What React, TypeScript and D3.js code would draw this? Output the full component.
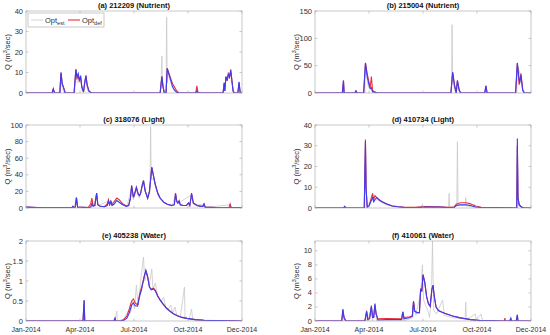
import React from 'react';
import * as d3 from 'd3';

type Pt = [number, number];

// x axis: day of 2014, ticks evenly spaced as in the original
const xTickDays = [0, 91, 182, 273, 364];
const xTickLabels = ['Jan-2014', 'Apr-2014', 'Jul-2014', 'Oct-2014', 'Dec-2014'];

// (a) 212209 (Nutrient)
const grayA: Pt[] = [[0,0],[44,0],[46,1.5],[48,0],[58,0],[59,9],[61,3],[64,0],[82,0],[84,10],[87,5],[92,7],[95,1],[100,7],[104,1],[110,0],[227,0],[229,18],[230,3],[236,0],[237,37],[238,5],[240,10],[245,4],[250,1],[256,0],[333,0],[337,7],[345,10],[350,0],[358,0],[359,5],[361,0],[364,0]];
const redA: Pt[] = [[0,0],[44,0],[46,2],[48,0],[57,0],[59,10],[61,4.5],[63,3],[66,0],[81,0],[84,11.5],[86,7],[88,8],[90,6],[92,8],[94,3],[97,0.5],[99,5],[101,8.5],[103,4],[106,1],[110,0],[226,0],[229,8],[231,3],[233,0],[236,0],[238,12],[241,9.5],[244,7],[247,4.5],[250,3],[254,1],[258,0],[286,0],[288,3.5],[290,0],[332,0],[334,5],[335,1],[337,8],[339,6],[341,10],[343,7],[345,11.5],[347,6],[349,1],[351,0],[357,0],[359,5],[361,0],[364,0]];
const blueA: Pt[] = [[0,0],[44,0],[46,2],[48,0],[57,0],[59,10],[61,4.5],[63,3],[66,0],[81,0],[84,11.5],[86,8],[88,9.5],[90,6],[92,8.5],[94,3],[97,0.5],[99,5],[101,8.5],[103,4],[106,1],[110,0],[226,0],[229,8],[231,3],[233,0],[236,0],[238,12],[241,9],[244,6],[247,3],[250,1.5],[254,0.3],[258,0],[286,0],[288,1],[290,0],[332,0],[334,5],[335,1],[337,8],[339,6],[341,9],[343,8],[345,11],[347,6],[349,1],[351,0],[357,0],[359,5.5],[361,0],[364,0]];

// (b) 215004 (Nutrient)
const grayB: Pt[] = [[0,0],[47,0],[48,18],[49,0],[84,0],[85,50],[90,10],[96,5],[100,0],[230,0],[231,125],[232,20],[236,3],[240,20],[244,0],[287,0],[288,12],[290,0],[340,0],[341,50],[347,30],[352,0],[364,0]];
const redB: Pt[] = [[0,0],[46,0],[48,23],[49,0],[67,0],[69,4],[71,0],[82,0],[85,55],[88,35],[91,20],[93,10],[95,30],[97,5],[100,2],[104,0.5],[110,0],[229,0],[232,38],[235,15],[238,0],[240,23],[243,5],[246,0],[286,0],[288,13],[290,0],[338,0],[341,55],[344,15],[347,36],[350,5],[353,0],[364,0]];
const blueB: Pt[] = [[0,0],[46,0],[48,23],[49,0],[67,0],[69,4],[71,0],[82,0],[85,55],[88,30],[91,15],[93,8],[95,10],[97,2],[100,2],[104,0.5],[110,0],[229,0],[232,38],[235,15],[238,0],[240,23],[243,5],[246,0],[286,0],[288,13],[290,0],[338,0],[341,55],[344,25],[345,18],[347,33],[350,5],[353,0],[364,0]];

// (c) 318076 (Light)
const grayC: Pt[] = [[0,1],[30,0.3],[78,0.3],[79,2],[81,0.3],[85,11],[87,0.5],[110,1],[111,10],[113,2],[119,16],[121,3],[139,8],[141,3],[153,10],[160,5],[170,2],[178,24],[181,10],[186,22],[191,12],[198,30],[205,10],[209,20],[210,98],[211,35],[215,35],[222,15],[232,6],[246,2],[252,15],[255,5],[279,16],[282,4],[300,4],[302,0.5],[344,4],[346,0.2],[364,0.2]];
const redC: Pt[] = [[0,1],[10,0.8],[30,0.3],[77,0.3],[79,2],[81,0.5],[83,1],[85,12.5],[87,1],[105,0.5],[109,5],[111,12],[113,3],[116,3],[119,18],[121,4],[125,2],[132,1.5],[137,5],[139,10],[141,4],[143,8],[145,4],[149,8],[153,12],[157,10],[163,5],[169,2.5],[173,3],[176,12],[178,27],[181,13],[183,17],[186,25],[189,17],[191,15],[193,17],[196,28],[198,33],[201,20],[205,12],[208,20],[212,49],[215,38],[218,28],[222,18],[226,12],[232,7],[238,4.5],[246,3],[250,4],[252,18],[254,8],[256,6],[258,9],[260,4],[265,3],[270,3],[274,6],[276,3],[278,12],[279,17],[282,6],[288,3],[295,2],[298,2],[300,5],[302,1],[320,0.5],[342,0.3],[344,5],[346,0.3],[364,0.2]];
const blueC: Pt[] = [[0,1],[10,0.8],[30,0.3],[77,0.3],[79,2],[81,0.5],[83,1],[85,12.5],[87,1],[105,0.5],[109,1],[111,5],[113,2],[116,3],[119,18],[121,4],[125,2],[132,1.5],[137,3],[139,8],[141,4],[143,8],[145,3],[149,5],[153,9],[157,7],[163,4],[169,2],[173,3],[176,12],[178,27],[181,13],[183,17],[186,25],[189,17],[191,15],[193,17],[196,28],[198,33],[201,20],[205,12],[208,20],[212,49],[215,38],[218,28],[222,18],[226,12],[232,7],[238,4.5],[246,3],[250,4],[252,17],[254,8],[256,6],[258,8],[260,4],[265,3],[270,3],[274,6],[276,3],[278,12],[279,18],[282,6],[288,3],[295,2],[298,2],[300,5],[302,1],[320,0.5],[342,0.3],[344,1],[346,0.3],[364,0.2]];

// (d) 410734 (Light)
const grayD: Pt[] = [[0,0],[49,0],[50,0.6],[51,0],[84,0],[85,30],[87,1],[97,4],[104,4],[120,1.5],[150,0.3],[180,0.3],[181,2],[182,0.3],[225,0.2],[226,7],[227,0.5],[239,1],[240,32],[241,1.5],[253,1.5],[254,5],[255,1],[268,0.5],[269,2],[270,0.3],[300,0],[340,0],[341,30],[343,1],[350,0],[364,0]];
const redD: Pt[] = [[0,0],[48,0],[50,0.8],[52,0],[83,0],[85,33],[86,10],[88,0.5],[91,1],[94,4],[97,7],[99,4],[101,6],[104,5],[108,4],[113,3],[120,2],[130,1],[140,0.6],[150,0.3],[170,0.3],[185,0.7],[210,0.6],[225,0.3],[234,0.3],[238,1.8],[245,2.5],[255,2.5],[262,2],[270,1],[280,0.3],[338,0],[340,0],[341,30],[342,5],[344,2],[346,1],[348,0.5],[352,0],[364,0]];
const blueD: Pt[] = [[0,0],[48,0],[50,0.8],[52,0],[83,0],[85,32],[86,10],[88,0.5],[91,1],[94,3],[97,5],[99,3],[101,4],[104,5],[108,4],[113,3],[120,2],[130,1],[140,0.6],[150,0.3],[170,0.2],[185,0.4],[210,0.4],[225,0.2],[234,0.2],[238,1.2],[245,1.5],[255,1.5],[262,1.2],[270,0.5],[280,0.2],[338,0],[340,0],[341,33.5],[342,5],[344,1.5],[346,1],[348,0.5],[352,0],[364,0]];

// (e) 405238 (Water)
const grayE: Pt[] = [[0,0],[97,0],[98,0.4],[99,0],[150,0],[153,0.25],[154,0],[165,0.05],[172,0.25],[176,0.2],[180,0.5],[183,0.3],[186,0.9],[189,0.4],[194,1.1],[198,1.6],[200,1.0],[204,1.2],[207,0.9],[210,1.1],[212,1.3],[214,0.8],[218,0.95],[222,0.6],[228,0.5],[232,0.6],[236,0.3],[240,0.3],[244,0.4],[247,0.2],[251,0.35],[254,0.15],[260,0.1],[267,0.85],[268,0.1],[275,0.05],[279,0.3],[281,0.03],[300,0.02],[364,0]];
const redE: Pt[] = [[0,0],[96,0],[98,0.52],[99,0],[148,0],[150,0.07],[151,0],[160,0],[165,0.04],[170,0.12],[174,0.3],[178,0.5],[181,0.55],[184,0.45],[188,0.4],[192,0.7],[195,0.85],[199,1.1],[202,1.25],[205,1.12],[208,0.85],[211,0.8],[215,0.82],[218,0.77],[222,0.63],[226,0.53],[231,0.43],[236,0.34],[242,0.26],[248,0.19],[255,0.13],[263,0.09],[271,0.065],[285,0.035],[300,0.02],[320,0.01],[340,0.005],[364,0]];
const blueE: Pt[] = [[0,0],[96,0],[98,0.52],[99,0],[148,0],[150,0.07],[151,0],[160,0],[165,0.02],[170,0.07],[174,0.2],[178,0.4],[181,0.45],[184,0.38],[188,0.37],[192,0.65],[195,0.8],[199,1.1],[202,1.27],[205,1.1],[208,0.85],[211,0.78],[215,0.8],[218,0.75],[222,0.62],[226,0.52],[231,0.42],[236,0.33],[242,0.25],[248,0.18],[255,0.13],[263,0.09],[271,0.065],[285,0.035],[300,0.02],[320,0.01],[340,0.005],[364,0]];

// (f) 410061 (Water)
const grayF: Pt[] = [[0,0],[46,0],[47,1.5],[49,0],[86,0],[87,1.2],[89,0],[95,2],[97,0],[101,2.2],[104,0],[147,0],[148,1.2],[150,0],[165,0.5],[166,2.5],[170,0.8],[178,4],[181,8],[183,3],[190,1.5],[193,0.5],[196,3],[198,11.4],[200,1.5],[205,1],[215,3],[218,0.8],[230,0.5],[253,0.3],[254,2.7],[255,0.3],[262,0.5],[270,1],[272,0.2],[280,1],[282,0.1],[300,0],[364,0]];
const redF: Pt[] = [[0,0],[45,0],[47,1.5],[49,0.5],[52,0],[84,0],[87,1.5],[89,0.3],[92,0.4],[95,2],[97,0.6],[99,0.6],[101,2.3],[103,1],[106,0.3],[120,0.35],[146,0.4],[148,1.3],[150,0.5],[160,0.6],[164,0.7],[166,2.8],[168,1.4],[172,1.2],[176,1.2],[178,4.6],[180,4.2],[182,6.6],[185,5.5],[188,3.5],[191,2.5],[194,2.1],[197,4.5],[199,5.1],[201,3.5],[204,2],[208,1.5],[215,1.2],[222,1],[232,0.7],[245,0.45],[252,0.35],[262,0.2],[279,0.08],[300,0.02],[318,0],[319,0],[320,0.4],[321,0],[328,0],[330,0.3],[331,0],[339,0],[341,0.8],[342,0],[364,0]];
const blueF: Pt[] = [[0,0],[45,0],[47,1.7],[49,0.5],[52,0],[84,0],[87,1.3],[89,0.2],[92,0.3],[95,2.2],[97,0.5],[99,0.5],[101,2.5],[103,1],[106,0.15],[120,0.2],[146,0.2],[148,1.3],[150,0.3],[160,0.5],[164,0.7],[166,2.8],[168,1.4],[172,1.2],[176,1.2],[178,4.6],[180,4.2],[182,6.6],[185,5.5],[188,3.5],[191,2.5],[194,2.1],[197,4.5],[199,5.1],[201,3.5],[204,2],[208,1.5],[215,1.2],[222,1],[232,0.7],[245,0.45],[262,0.2],[279,0.08],[300,0.02],[318,0],[328,0],[330,0.4],[331,0],[339,0],[341,0.9],[342,0],[364,0]];

const font = '"Liberation Sans", Arial, sans-serif';
const GRAY = '#c9c9c9';
const RED = '#e8303a';
const BLUE = '#3c3cf0';
const BOX = '#a6a6a6';
const TXT = '#303030';

interface PanelDef {
  title: string;
  col: number;
  row: number;
  yMax: number;
  yTicks: number[];
  gray: Pt[];
  red: Pt[];
  blue: Pt[];
  showX?: boolean;
  legend?: boolean;
}

const colX = [[26, 242], [315, 531]];
const rowY = [[11, 93], [125, 208], [241, 321]];

const panels: PanelDef[] = [
  { title: '(a) 212209 (Nutrient)', col: 0, row: 0, yMax: 40, yTicks: [0, 10, 20, 30, 40], gray: grayA, red: redA, blue: blueA, legend: true },
  { title: '(b) 215004 (Nutrient)', col: 1, row: 0, yMax: 150, yTicks: [0, 50, 100, 150], gray: grayB, red: redB, blue: blueB },
  { title: '(c) 318076 (Light)', col: 0, row: 1, yMax: 100, yTicks: [0, 20, 40, 60, 80, 100], gray: grayC, red: redC, blue: blueC },
  { title: '(d) 410734 (Light)', col: 1, row: 1, yMax: 40, yTicks: [0, 10, 20, 30, 40], gray: grayD, red: redD, blue: blueD },
  { title: '(e) 405238 (Water)', col: 0, row: 2, yMax: 2, yTicks: [0, 0.5, 1, 1.5, 2], gray: grayE, red: redE, blue: blueE, showX: true },
  { title: '(f) 410061 (Water)', col: 1, row: 2, yMax: 11.4, yTicks: [0, 2, 4, 6, 8, 10], gray: grayF, red: redF, blue: blueF, showX: true },
];

const Panel = ({ p, i }: { p: PanelDef; i: number }) => {
  const [x0, x1] = colX[p.col];
  const [y0, y1] = rowY[p.row];
  const x = d3.scaleLinear().domain([0, 364]).range([x0, x1]);
  const y = d3.scaleLinear().domain([0, p.yMax]).range([y1, y0]);
  const line = d3.line<Pt>().x(d => x(d[0])).y(d => y(d[1]));
  const clip = `clip${i}`;
  const tl = 2.5;
  return (
    <g>
      <defs>
        <clipPath id={clip}>
          <rect x={x0} y={y0} width={x1 - x0} height={y1 - y0} />
        </clipPath>
      </defs>
      <text x={(x0 + x1) / 2} y={y0 - 3} textAnchor="middle" fontSize={7.5} fontWeight="bold" fill="#111">{p.title}</text>
      <g clipPath={`url(#${clip})`}>
        <path d={line(p.gray) || ''} fill="none" stroke={GRAY} strokeWidth={0.8} />
        <path d={line(p.red) || ''} fill="none" stroke={RED} strokeWidth={1.1} />
        <path d={line(p.blue) || ''} fill="none" stroke={BLUE} strokeWidth={1.1} />
      </g>
      <rect x={x0} y={y0} width={x1 - x0} height={y1 - y0} fill="none" stroke={BOX} strokeWidth={0.6} />
      {p.yTicks.map(t => (
        <g key={t}>
          <line x1={x0} x2={x0 + tl} y1={y(t)} y2={y(t)} stroke={BOX} strokeWidth={0.6} />
          <line x1={x1} x2={x1 - tl} y1={y(t)} y2={y(t)} stroke={BOX} strokeWidth={0.6} />
          <text x={x0 - 3} y={y(t) + 2.5} textAnchor="end" fontSize={7.5} fill={TXT}>{String(t)}</text>
        </g>
      ))}
      {xTickDays.map((t, k) => (
        <g key={t}>
          <line x1={x(t)} x2={x(t)} y1={y1} y2={y1 - tl} stroke={BOX} strokeWidth={0.6} />
          <line x1={x(t)} x2={x(t)} y1={y0} y2={y0 + tl} stroke={BOX} strokeWidth={0.6} />
          {p.showX && (
            <text x={x(t)} y={y1 + 11} textAnchor="middle" fontSize={7} fill={TXT}>{xTickLabels[k]}</text>
          )}
        </g>
      ))}
      <text transform={`translate(${x0 - 16},${(y0 + y1) / 2}) rotate(-90)`} textAnchor="middle" fontSize={7.5} fill={TXT}>
        Q (m<tspan dy={-3} fontSize={5.5}>3</tspan><tspan dy={3}>/sec)</tspan>
      </text>
      {p.legend && (
        <g>
          <rect x={x0 + 2} y={y0 + 2} width={76} height={14} fill="#fff" stroke={BOX} strokeWidth={0.6} />
          <line x1={x0 + 5} x2={x0 + 17} y1={y0 + 9} y2={y0 + 9} stroke={GRAY} strokeWidth={0.8} />
          <text x={x0 + 19} y={y0 + 11.5} fontSize={7.5} fill={TXT}>Opt<tspan dy={2} fontSize={5.5}>est</tspan></text>
          <line x1={x0 + 42} x2={x0 + 54} y1={y0 + 9} y2={y0 + 9} stroke={RED} strokeWidth={1.1} />
          <text x={x0 + 56} y={y0 + 11.5} fontSize={7.5} fill={TXT}>Opt<tspan dy={2} fontSize={5.5}>def</tspan></text>
        </g>
      )}
    </g>
  );
};

export default function App() {
  return (
    <div style={{ position: 'absolute', left: 0, top: 0 }}>
      <svg width={550} height={335} style={{ display: 'block', fontFamily: font, background: '#fff' }}>
        {panels.map((p, i) => <Panel key={i} p={p} i={i} />)}
      </svg>
    </div>
  );
}
